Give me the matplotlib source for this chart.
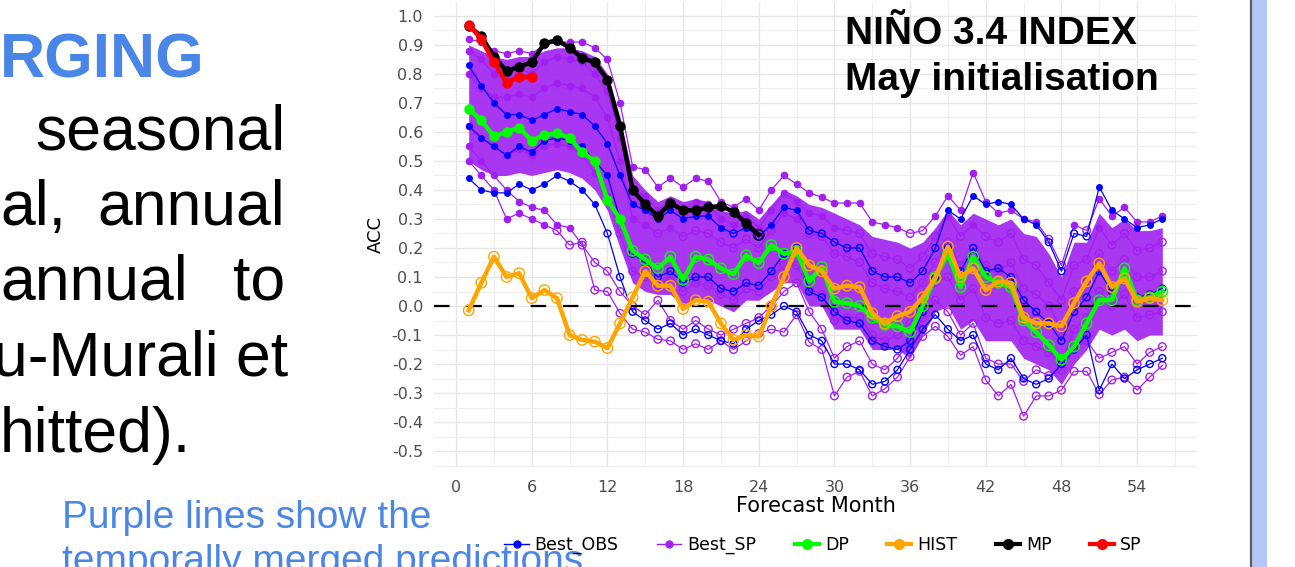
"""
Slide snippet: NINO 3.4 index ACC by forecast month (May initialisation),
with the best temporally merged predictions and the single systems.
"""

import numpy as np
import matplotlib.pyplot as plt
from matplotlib.lines import Line2D
from matplotlib.patches import Rectangle

# === Data (ACC) ===
months = np.arange(1, 57)

dp = [0.68, 0.64, 0.585, 0.60, 0.615, 0.57, 0.59, 0.595, 0.58, 0.53, 0.50, 0.365,
      0.30, 0.19, 0.16, 0.13, 0.17, 0.09, 0.17, 0.16, 0.13, 0.11, 0.175, 0.148,
      0.21, 0.18, 0.19, 0.085, 0.135, 0.015, 0.01, 0.0, -0.04, -0.065, -0.07, -0.09,
      0.0, 0.10, 0.18, 0.065, 0.17, 0.10, 0.08, 0.065, -0.05, -0.09, -0.135, -0.185,
      -0.14, -0.06, 0.02, 0.02, 0.13, 0.02, 0.03, 0.05]

hist = [-0.015, 0.08, 0.17, 0.10, 0.113, 0.027, 0.055, 0.027, -0.10, -0.117, -0.123, -0.145,
        -0.06, 0.03, 0.12, 0.07, 0.07, -0.01, 0.02, 0.015, -0.06, -0.117, -0.10, -0.105,
        0.0, 0.10, 0.20, 0.14, 0.12, 0.06, 0.07, 0.065, -0.025, -0.06, -0.035, -0.02,
        0.03, 0.095, 0.205, 0.10, 0.13, 0.055, 0.085, 0.08, -0.04, -0.06, -0.06, -0.07,
        0.01, 0.085, 0.147, 0.065, 0.095, 0.015, 0.027, 0.02]

mp = [0.965, 0.93, 0.86, 0.81, 0.825, 0.84, 0.905, 0.917, 0.89, 0.855, 0.84, 0.78,
      0.62, 0.40, 0.35, 0.31, 0.355, 0.33, 0.33, 0.34, 0.345, 0.325, 0.285, 0.245]

sp = [0.97, 0.92, 0.84, 0.77, 0.79, 0.79]

# Best_SP (purple) ensemble: representative members
best_sp = {
    "upper": [0.92, 0.91, 0.88, 0.87, 0.88, 0.87, 0.90, 0.91, 0.91, 0.91, 0.89, 0.85,
              0.70, 0.48, 0.47, 0.41, 0.44, 0.41, 0.44, 0.43, 0.36, 0.34, 0.37, 0.33,
              0.40, 0.45, 0.42, 0.39, 0.375, 0.355, 0.355, 0.355, 0.29, 0.28, 0.27, 0.25,
              0.26, 0.31, 0.38, 0.33, 0.46, 0.36, 0.32, 0.33, 0.30, 0.29, 0.23, 0.14,
              0.28, 0.26, 0.37, 0.31, 0.34, 0.29, 0.29, 0.31],
    "mid_c": [0.88, 0.85, 0.80, 0.80, 0.82, 0.80, 0.84, 0.86, 0.85, 0.84, 0.80, 0.74,
              0.58, 0.40, 0.38, 0.33, 0.36, 0.33, 0.36, 0.35, 0.30, 0.28, 0.31, 0.27,
              0.33, 0.39, 0.36, 0.32, 0.31, 0.27, 0.26, 0.25, 0.18, 0.17, 0.16, 0.13,
              0.17, 0.24, 0.31, 0.24, 0.28, 0.24, 0.22, 0.25, 0.16, 0.14, 0.08, 0.02,
              0.14, 0.16, 0.27, 0.21, 0.25, 0.19, 0.20, 0.22],
    "mid_b": [0.80, 0.75, 0.72, 0.72, 0.73, 0.72, 0.75, 0.77, 0.76, 0.75, 0.72, 0.65,
              0.50, 0.30, 0.28, 0.25, 0.27, 0.24, 0.26, 0.25, 0.22, 0.20, 0.23, 0.20,
              0.26, 0.32, 0.30, 0.25, 0.24, 0.18, 0.17, 0.15, 0.08, 0.06, 0.05, 0.03,
              0.08, 0.15, 0.22, 0.14, 0.20, 0.14, 0.12, 0.15, 0.06, 0.04, 0.00, -0.08,
              0.05, 0.08, 0.18, 0.12, 0.16, 0.10, 0.10, 0.12],
    "mid_d": [0.62, 0.58, 0.55, 0.52, 0.54, 0.52, 0.55, 0.56, 0.55, 0.52, 0.46, 0.38,
              0.25, 0.12, 0.10, 0.07, 0.10, 0.05, 0.08, 0.07, 0.04, 0.02, 0.06, 0.05,
              0.10, 0.14, 0.14, 0.06, 0.04, -0.05, -0.04, -0.04, -0.10, -0.12, -0.10, -0.06,
              0.02, 0.08, 0.10, 0.02, 0.06, -0.04, -0.06, -0.05, -0.12, -0.14, -0.16, -0.20,
              -0.08, -0.04, 0.05, 0.0, 0.04, -0.04, -0.03, -0.02],
    "mid_a": [0.55, 0.50, 0.45, 0.40, 0.36, 0.34, 0.33, 0.28, 0.27, 0.21, 0.15, 0.12,
              0.05, 0.0, -0.03, 0.02, -0.05, -0.08, -0.05, -0.08, -0.10, -0.08, -0.06, -0.04,
              0.0, 0.05, 0.08, -0.02, -0.08, -0.18, -0.14, -0.12, -0.20, -0.22, -0.18, -0.12,
              -0.04, 0.02, -0.02, -0.10, -0.06, -0.18, -0.20, -0.20, -0.26, -0.22, -0.24, -0.22,
              -0.15, -0.12, -0.18, -0.16, -0.14, -0.20, -0.16, -0.14],
    "lower": [0.50, 0.45, 0.40, 0.30, 0.32, 0.30, 0.28, 0.26, 0.21, 0.22, 0.055, 0.05,
              -0.025, -0.08, -0.09, -0.115, -0.12, -0.15, -0.13, -0.15, -0.12, -0.15, -0.12, -0.095,
              -0.08, -0.09, -0.03, -0.125, -0.15, -0.31, -0.245, -0.225, -0.31, -0.285, -0.245, -0.175,
              -0.105, -0.07, -0.105, -0.17, -0.14, -0.255, -0.31, -0.27, -0.38, -0.31, -0.31, -0.29,
              -0.225, -0.225, -0.305, -0.255, -0.245, -0.29, -0.245, -0.205],
}

# dense core of the purple ensemble
sp_core_hi = [0.90, 0.88, 0.86, 0.85, 0.86, 0.86, 0.88, 0.89, 0.89, 0.88, 0.86, 0.80,
              0.65, 0.45, 0.40, 0.36, 0.38, 0.36, 0.37, 0.36, 0.33, 0.32, 0.33, 0.30,
              0.35, 0.40, 0.38, 0.35, 0.34, 0.32, 0.30, 0.28, 0.24, 0.23, 0.22, 0.20,
              0.22, 0.27, 0.33, 0.28, 0.32, 0.30, 0.28, 0.30, 0.25, 0.24, 0.18, 0.10,
              0.22, 0.22, 0.32, 0.27, 0.30, 0.26, 0.26, 0.27]
sp_core_lo = [0.50, 0.47, 0.45, 0.45, 0.46, 0.45, 0.46, 0.47, 0.46, 0.44, 0.40, 0.33,
              0.20, 0.08, 0.05, 0.04, 0.04, 0.00, 0.03, 0.02, 0.00, -0.02, 0.02, 0.02,
              0.05, 0.08, 0.08, 0.00, 0.00, -0.08, -0.08, -0.08, -0.15, -0.15, -0.15, -0.18,
              -0.10, -0.02, 0.00, -0.08, -0.05, -0.12, -0.12, -0.12, -0.18, -0.20, -0.22, -0.27,
              -0.20, -0.15, -0.08, -0.10, -0.08, -0.12, -0.10, -0.10]

# Best_OBS (blue) ensemble: representative members
best_obs = {
    "a": [0.83, 0.76, 0.70, 0.66, 0.66, 0.64, 0.66, 0.68, 0.67, 0.66, 0.62, 0.56,
          0.45, 0.35, 0.33, 0.30, 0.33, 0.30, 0.31, 0.31, 0.27, 0.25, 0.27, 0.24,
          0.28, 0.34, 0.33, 0.26, 0.25, 0.22, 0.20, 0.20, 0.12, 0.10, 0.10, 0.08,
          0.12, 0.20, 0.33, 0.30, 0.38, 0.35, 0.36, 0.35, 0.30, 0.28, 0.22, 0.12,
          0.25, 0.24, 0.41, 0.33, 0.30, 0.27, 0.28, 0.30],
    "b": [0.62, 0.58, 0.55, 0.52, 0.55, 0.53, 0.57, 0.58, 0.57, 0.55, 0.50, 0.45,
          0.30, 0.18, 0.15, 0.10, 0.12, 0.08, 0.10, 0.10, 0.06, 0.05, 0.08, 0.07,
          0.12, 0.18, 0.20, 0.05, 0.03, -0.02, -0.05, -0.06, -0.12, -0.14, -0.15, -0.12,
          -0.02, 0.10, 0.20, 0.12, 0.20, 0.12, 0.13, 0.10, 0.02, -0.02, -0.06, -0.12,
          -0.02, 0.03, 0.12, 0.05, 0.10, 0.03, 0.04, 0.06],
    "c": [0.44, 0.40, 0.39, 0.39, 0.42, 0.40, 0.42, 0.45, 0.43, 0.40, 0.35, 0.25,
          0.10, -0.02, -0.05, -0.08, -0.06, -0.10, -0.08, -0.10, -0.12, -0.13, -0.08, -0.05,
          -0.03, 0.00, -0.02, -0.10, -0.12, -0.20, -0.20, -0.22, -0.27, -0.26, -0.22, -0.15,
          -0.08, -0.03, -0.08, -0.12, -0.10, -0.20, -0.22, -0.18, -0.25, -0.27, -0.25, -0.20,
          -0.15, -0.10, -0.29, -0.20, -0.25, -0.22, -0.20, -0.18],
}

LEGEND_LABELS = ["Best_OBS", "Best_SP", "DP", "HIST", "MP", "SP"]

# === Style ===
SIG_LEVEL = 0.26  # filled symbol above this ACC, open below
COLORS = {
    "Best_OBS": "#0000FF",
    "Best_SP": "#A020F0",
    "DP": "#00FF00",
    "HIST": "#FFA500",
    "MP": "#000000",
    "SP": "#FF0000",
}
SLIDE_BLUE = "#4A86E8"
W, H = 1295, 567


def plot_series(ax, y, color, lw, ms, z):
    """Line with filled points where significant, open rings elsewhere."""
    y = np.asarray(y, dtype=float)
    x = months[: len(y)]
    ax.plot(x, y, color=color, lw=lw, zorder=z, solid_joinstyle="round")
    sig = y > SIG_LEVEL
    ax.scatter(x[sig], y[sig], s=ms ** 2, color=color, zorder=z, linewidths=0)
    ax.scatter(x[~sig], y[~sig], s=ms ** 2, facecolors="none", edgecolors=color,
               linewidths=1.0, zorder=z)


fig = plt.figure(figsize=(W / 100, H / 100), dpi=100)
ax = fig.add_axes([434 / W, 1 - 467 / H, (1197 - 434) / W, (467 - 2) / H])

# grid like ggplot theme_minimal
ax.set_xticks(np.arange(0, 55, 6))
ax.set_xticks(np.arange(3, 58, 6), minor=True)
yt = np.round(np.arange(-0.5, 1.01, 0.1), 1)
ax.set_yticks(yt)
ax.set_yticks(np.arange(-0.55, 1.06, 0.1), minor=True)
ax.grid(which="major", color="#E6E6E6", lw=1.0)
ax.grid(which="minor", color="#EDEDED", lw=0.7)
ax.set_axisbelow(True)
for s in ax.spines.values():
    s.set_visible(False)

# purple ensemble core + members, blue members on top
ax.fill_between(months, sp_core_lo, sp_core_hi, color=COLORS["Best_SP"], alpha=0.9,
                lw=0, zorder=1.5)
for name, vals in best_sp.items():
    plot_series(ax, vals, COLORS["Best_SP"], 0.9, 5.5, 2)
for name, vals in best_obs.items():
    plot_series(ax, vals, COLORS["Best_OBS"], 0.9, 5.0, 2.1)

ax.axhline(0, color="black", lw=1.6, ls=(0, (7, 7.5)), zorder=3)

plot_series(ax, dp, COLORS["DP"], 3.2, 7.5, 4)
plot_series(ax, hist, COLORS["HIST"], 3.2, 7.5, 5)
plot_series(ax, mp, COLORS["MP"], 3.2, 7.5, 6)
plot_series(ax, sp, COLORS["SP"], 3.2, 7.5, 7)

ax.set_xlim(-1.75, 58.75)
ax.set_ylim(-0.555, 1.048)
ax.set_yticklabels([f"{abs(v):.1f}" if abs(v) < 1e-9 else f"{v:.1f}" for v in yt])
ax.tick_params(which="both", length=0, labelsize=11.5, labelcolor="#4D4D4D")
ax.tick_params(axis="y", pad=8)
ax.tick_params(axis="x", pad=9)
ax.set_xlabel("Forecast Month", fontsize=15, labelpad=1)
ax.set_ylabel("ACC", fontsize=13, labelpad=5)

# legend along the bottom
handles = []
for lab in LEGEND_LABELS:
    thin = lab.startswith("Best")
    handles.append(Line2D([], [], color=COLORS[lab], lw=1.0 if thin else 3.0,
                          marker="o", ms=5 if thin else 7))
fig.legend(handles, LEGEND_LABELS, loc="center", bbox_to_anchor=(823 / W, 1 - 545 / H),
           ncol=6, frameon=False, fontsize=12.5, handlelength=1.4, handletextpad=0.35,
           columnspacing=2.2)

# chart title on the slide
fig.text(845 / W, 1 - 34 / H, "NIÑO 3.4 INDEX", fontsize=28, fontweight="bold",
         family="Liberation Sans", va="center", ha="left")
fig.text(845 / W, 1 - 80 / H, "May initialisation", fontsize=28, fontweight="bold",
         family="Liberation Sans", va="center", ha="left")

# slide body text (cut off at the left edge)
fig.text(0, 1 - 78 / H, "RGING", fontsize=45, fontweight="bold", color=SLIDE_BLUE,
         family="Liberation Sans", va="baseline", ha="left")
body = [("seasonal", 285, 150, "right"),
        ("al,", 0, 225, "left"), ("annual", 285, 225, "right"),
        ("annual", 0, 300, "left"), ("to", 285, 300, "right"),
        ("u-Murali et", 288, 376, "right"),
        ("hitted).", 0, 452, "left")]
for txt, x, y, ha in body:
    fig.text(x / W, 1 - y / H, txt, fontsize=45, family="Liberation Sans",
             va="baseline", ha=ha)

fig.text(62 / W, 1 - 528 / H, "Purple lines show the", fontsize=28, color=SLIDE_BLUE,
         family="Liberation Sans", va="baseline", ha="left")
fig.text(62 / W, 1 - 572 / H, "temporally merged predictions", fontsize=28,
         color=SLIDE_BLUE, family="Liberation Sans", va="baseline", ha="left")

# slide border at the right
fig.add_artist(Rectangle((1252 / W, 0), 15 / W, 1, transform=fig.transFigure,
                         color="#B4C7F7", lw=0))
fig.add_artist(Line2D([1251 / W, 1251 / W], [0, 1], transform=fig.transFigure,
                      color="#5F5F5F", lw=1.6))

fig.savefig("out.png", dpi=100)
